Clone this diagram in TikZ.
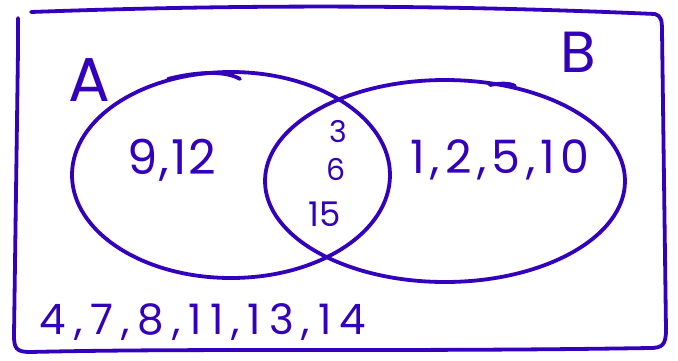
\documentclass[tikz,border=0pt]{standalone}
\usepackage{fontspec}
\setmainfont{Poppins}
\usetikzlibrary{shapes.geometric}
\definecolor{ink}{HTML}{3300BB}
\begin{document}
\begin{tikzpicture}[x=1pt,y=-1pt,
  pen/.style={draw=ink,line width=3.8pt,line cap=round,line join=round},
  lbl/.style={text=ink,inner sep=0pt,font=\fontsize{#1}{#1}\selectfont},
  lbl/.default=40]
\useasboundingbox (0,0) rectangle (678,360);
% universal box
\draw[pen] (31,12) .. controls (250,4) and (450,5) .. (655,14)
  .. controls (661,16) and (662,20) .. (662,30)
  -- (666,330) .. controls (666,345) and (662,348) .. (650,348)
  .. controls (400,352) and (200,348) .. (30,352)
  .. controls (16,352) and (14,348) .. (14,335)
  -- (18,50) -- (18,18);
% sets
\node[pen,ellipse,inner sep=0pt,minimum width=318pt,minimum height=206pt] (A) at (231,175) {};
\node[pen,ellipse,inner sep=0pt,minimum width=360pt,minimum height=202pt] (B) at (445,181) {};
\draw[pen] (168,79) .. controls (195,72) and (225,70) .. (240,79);
\draw[pen] (490,85) .. controls (500,83) and (510,83) .. (515,86);
% labels
\node[lbl=62] (la) at (89,80) {A};
\node[lbl=58] (lb) at (578,52) {B};
\node[lbl=48] (a1) at (172,160) {\addfontfeature{LetterSpace=4}9,12};
\node[lbl=30] (c1) at (338,132) {3};
\node[lbl=30] (c2) at (336,169) {6};
\node[lbl=34] (c3) at (325,214) {15};
\node[lbl=46] (b1) at (500,160) {\addfontfeature{LetterSpace=12}1,2,5,10};
\node[lbl=42] (u1) at (203,322) {\addfontfeature{LetterSpace=19}4,7,8,11,13,14};
\end{tikzpicture}
\end{document}
